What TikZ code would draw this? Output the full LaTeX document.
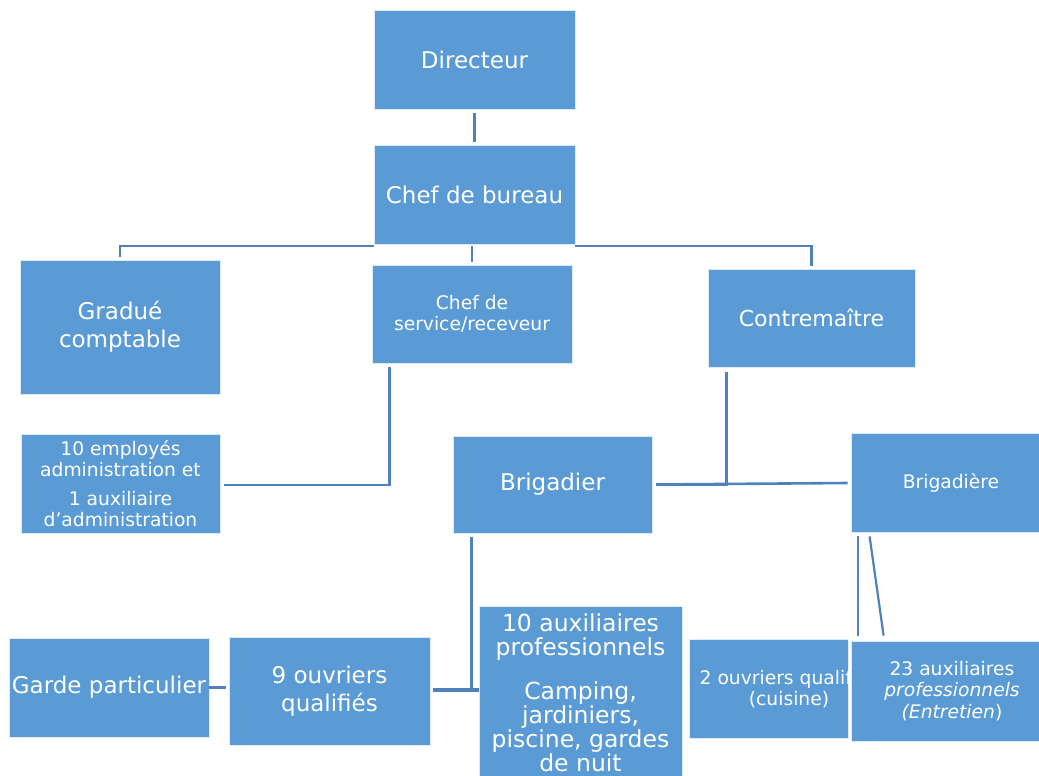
\documentclass[tikz,border=0pt]{standalone}
\usepackage{fontspec}
\setmainfont{DejaVu Sans}
\usetikzlibrary{calc}
\definecolor{boxblue}{HTML}{5B9BD5}
\definecolor{linkblue}{HTML}{4F81BD}
\begin{document}
\begin{tikzpicture}[x=1pt,y=-1pt,
  box/.style={rectangle, fill=boxblue, draw=white!80!boxblue, line width=0.8pt,
    inner sep=0pt, text=white, align=center},
  big/.style={font=\fontsize{23}{28}\selectfont},
  small/.style={font=\fontsize{18.7}{21.5}\selectfont},
  link/.style={draw=linkblue, line width=2.6pt},
]
\useasboundingbox (0,0) rectangle (1039,776);
\fill[white] (0,0) rectangle (1039,776);

% boxes
\node[box,big,minimum width=201pt,minimum height=99pt] (dir) at (474.5,59.5) {Directeur};
\node[box,big,minimum width=201pt,minimum height=99pt] (cb) at (474.5,194.5) {Chef de bureau};
\node[box,big,minimum width=200pt,minimum height=134pt] (gc) at (120,327) {Gradué\\comptable};
\node[box,small,minimum width=200pt,minimum height=98pt] (cs) at (472,314) {Chef de\\service/receveur};
\node[box,big,minimum width=207pt,minimum height=98pt,font=\fontsize{22}{26}\selectfont] (ct) at (811.5,318) {Contremaître};
\node[box,small,minimum width=199pt,minimum height=99pt] (emp) at (120.5,483.5) {10 employés\\administration et\\[7pt]1 auxiliaire\\d’administration};
\node[box,big,minimum width=199pt,minimum height=97pt] (brig) at (552.5,484.5) {Brigadier};
\node[box,small,minimum width=200pt,minimum height=99pt] (bri2) at (951,482.5) {Brigadière};
\node[box,big,minimum width=200pt,minimum height=99pt] (garde) at (109,687.5) {Garde particulier};
\node[box,big,minimum width=201pt,minimum height=108pt] (o9) at (329.5,691) {9 ouvriers\\qualifiés};
\node[box,minimum width=203pt,minimum height=174pt,font=\fontsize{23.5}{24.2}\selectfont] (aux10) at (580.5,693)
  {10 auxiliaires\\professionnels\\[19pt]Camping,\\jardiniers,\\piscine, gardes\\de nuit};
\node[box,minimum width=159pt,minimum height=99pt] (o2) at (768.5,688.5) {};
\begin{scope}
  \clip (o2.north west) rectangle (o2.south east);
  \node[small,text=white,align=center,inner sep=0pt] (o2txt) at (789,688.5) {2 ouvriers qualifiés\\(cuisine)};
\end{scope}
\node[box,small,minimum width=202pt,minimum height=100pt] (aux23) at (952,691) {23 auxiliaires\\\textit{professionnels}\\\textit{(Entretien})};

% connectors
\coordinate (bus) at (0,246);
\draw[link] ($(dir.south)+(0,4)$) -- ($(cb.north)+(0,-3)$);
\draw[link] ($(gc.north)+(0,-3)$) -- (gc.north |- bus) -- (cb.west |- bus);
\draw[link] (cb.east |- bus) -- (ct.north |- bus) -- ($(ct.north)+(0,-3)$);
\draw[link] (cs.north |- bus) -- ($(cs.north)+(0,-3)$);
\draw[link] ($(cs.south west)+(18,4)$) |- ($(emp.east)+(4,1.5)$);
\draw[link] ($(ct.south west)+(19,5)$) |- ($(brig.east)+(4,0)$);
\draw[link] ($(brig.east)+(4,0)$) -- ($(bri2.west |- brig.east)+(-3,-1.5)$);
\draw[link,line width=2.2pt] ($(bri2.south west)+(7,4)$) -- ($(aux23.north west)+(7,-5)$);
\draw[link,line width=2.2pt] ($(bri2.south west)+(19,4)$) -- ($(aux23.north west)+(33,-5)$);
\draw[link,line width=3.4pt] ($(brig.south west)+(19,4)$) |- ($(o9.east)+(3,-1)$);
\draw[link,line width=3.4pt] ($(o9.east)+(3,-1)$) -- ($(aux10.west |- o9.east)+(0,-1)$);
\draw[link,line width=2.2pt,shorten >=3pt] (garde.east) -- (o9.west |- garde.east);
\end{tikzpicture}
\end{document}
